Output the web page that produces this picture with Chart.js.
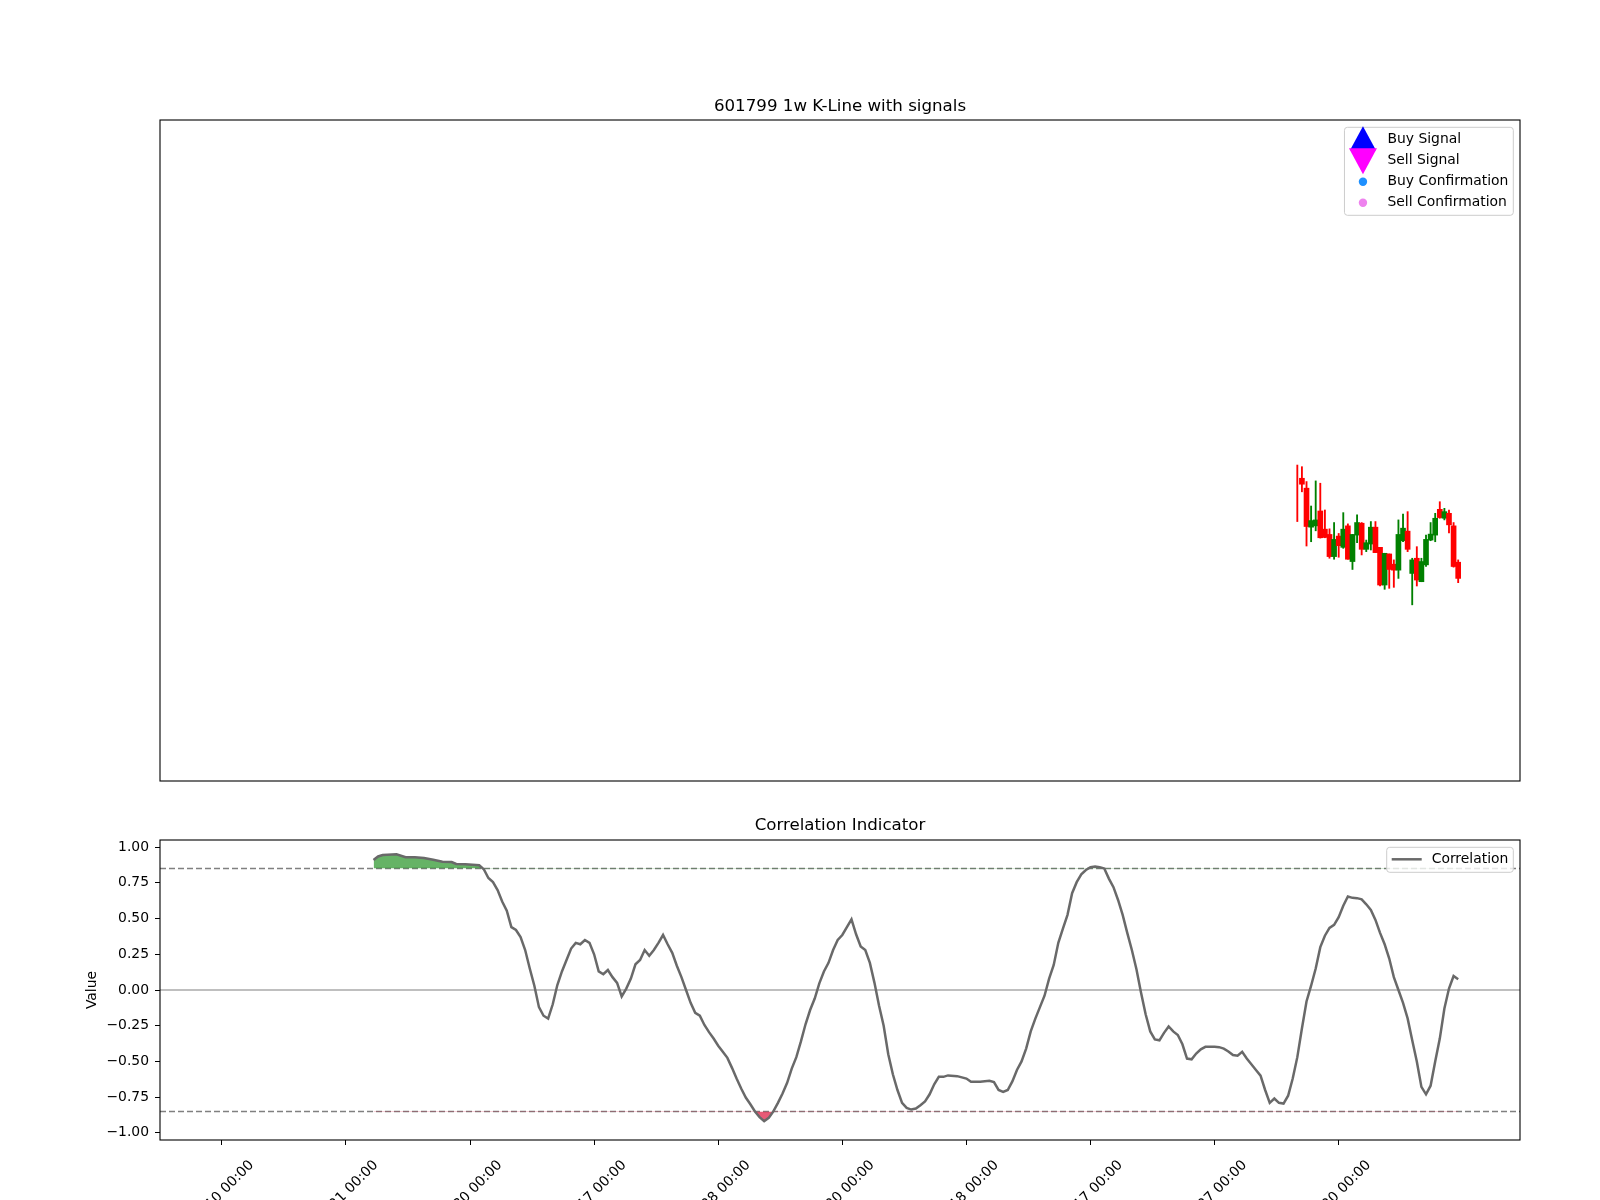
<!DOCTYPE html>
<html>
<head>
<meta charset="utf-8">
<script src="https://cdn.jsdelivr.net/npm/chart.js@4.4.1/dist/chart.umd.min.js"></script>
<style>
  body { margin: 0; background: #fff; }
  #wrap { position: relative; width: 1600px; height: 1200px; overflow: hidden; }
  canvas { position: absolute; left: 0; }
  #kline { top: 0; }
  #corr { top: 790px; }
</style>
</head>
<body>
<div id="wrap">
  <canvas id="kline" width="1600" height="790"></canvas>
  <canvas id="corr" width="1600" height="410"></canvas>
</div>
<script>
// week index of each weekly candle (only the last 36 weeks are drawn)
const candleWeeks = [234, 235, 236, 237, 238, 239, 240, 241, 242, 243, 244, 245,
  246, 247, 248, 249, 250, 251, 252, 253, 254, 255, 256, 257,
  258, 259, 260, 261, 262, 263, 264, 265, 266, 267, 268, 269];
const opens  = [147.0, 151.6, 148.6, 136.8, 137.2, 141.7, 136.2, 134.6, 127.9, 134.1, 130.7, 137.2,
  126.4, 134.4, 138.0, 130.1, 131.7, 136.8, 130.7, 119.3, 128.7, 125.6, 123.8, 132.7,
  135.6, 122.8, 127.4, 120.3, 125.4, 132.9, 134.4, 142.2, 139.5, 141.0, 137.2, 126.2];
const highs  = [155.6, 155.1, 150.6, 143.2, 150.8, 150.1, 142.0, 136.3, 138.2, 134.9, 141.2, 137.8,
  134.6, 140.5, 138.2, 132.9, 138.5, 138.5, 130.7, 128.9, 128.7, 126.9, 139.0, 140.8,
  141.5, 127.4, 130.9, 127.4, 134.4, 138.2, 141.0, 144.5, 142.5, 142.0, 138.2, 126.9];
const lows   = [138.5, 147.5, 131.1, 132.4, 135.7, 133.5, 133.6, 127.4, 127.1, 127.7, 130.4, 127.1,
  124.0, 132.1, 128.4, 129.4, 129.9, 129.1, 119.0, 118.0, 118.3, 118.6, 121.3, 132.4,
  129.4, 113.3, 119.0, 120.3, 124.9, 132.7, 132.4, 139.5, 139.0, 135.1, 124.7, 120.0];
const closes = [147.0, 149.8, 137.0, 138.8, 139.0, 133.6, 133.7, 127.9, 133.1, 131.2, 136.2, 127.1,
  134.6, 138.2, 130.1, 132.1, 136.8, 129.1, 119.3, 128.9, 124.0, 123.8, 134.6, 136.5,
  130.1, 126.9, 120.8, 126.4, 133.1, 134.7, 139.5, 139.7, 141.5, 137.5, 124.9, 121.3];

// correlation indicator (week index -> value)
const corrWeeks = [33, 34, 35, 36, 38, 40, 42, 44, 46, 48, 50, 51, 53, 56, 57, 58, 59, 60,
  61, 62, 63, 64, 65, 66, 67, 68, 69, 70, 71, 72, 73, 74, 75, 76, 77, 78, 79, 80,
  81, 82, 83, 84, 85, 86, 87, 88, 89, 90, 91, 92, 93, 94, 95, 96, 97, 98, 99, 100,
  101, 102, 103, 104, 105, 106, 107, 108, 109, 110, 111, 112, 113, 114, 115, 116, 117, 118, 119, 120,
  121, 122, 123, 124, 125, 126, 127, 128, 129, 130, 131, 132, 133, 134, 135, 136, 137, 138, 139, 140,
  141, 142, 143, 144, 145, 146, 147, 148, 149, 150, 151, 152, 153, 154, 155, 156, 157, 158, 160,
  162, 163, 165, 167, 168, 169, 170, 171, 172, 173, 174, 175, 176, 177, 178, 179, 180,
  181, 182, 183, 184, 185, 186, 187, 188, 189, 190, 191, 192, 193, 194, 195, 196, 197, 198, 199, 200,
  201, 202, 203, 204, 205, 206, 207, 208, 209, 210, 211, 212, 213, 214, 216, 217, 218, 219, 220,
  221, 222, 223, 224, 225, 226, 227, 228, 229, 230, 231, 232, 233, 234, 235, 236, 237, 238, 239, 240,
  241, 242, 243, 244, 245, 246, 247, 248, 249, 250, 251, 252, 253, 254, 255, 256, 257, 258, 259, 260,
  261, 262, 263, 264, 265, 266, 267, 268, 269];
const corrValues = [0.91, 0.935, 0.945, 0.947, 0.95, 0.93, 0.929, 0.924, 0.912, 0.898, 0.896, 0.882, 0.88, 0.873, 0.845, 0.784, 0.755, 0.70,
  0.62, 0.555, 0.44, 0.42, 0.37, 0.28, 0.15, 0.03, -0.12, -0.18, -0.20, -0.10, 0.035, 0.13, 0.21, 0.29, 0.33, 0.32, 0.35, 0.33,
  0.25, 0.13, 0.11, 0.14, 0.09, 0.05, -0.045, 0.01, 0.08, 0.18, 0.21, 0.28, 0.24, 0.28, 0.33, 0.385, 0.32, 0.26, 0.17, 0.09,
  0.00, -0.09, -0.16, -0.18, -0.245, -0.295, -0.34, -0.39, -0.433, -0.475, -0.545, -0.62, -0.69, -0.753, -0.80, -0.85, -0.89, -0.918, -0.895, -0.85,
  -0.79, -0.725, -0.65, -0.55, -0.47, -0.36, -0.24, -0.14, -0.06, 0.047, 0.13, 0.19, 0.28, 0.35, 0.385, 0.44, 0.495, 0.39, 0.305, 0.28,
  0.19, 0.05, -0.11, -0.25, -0.45, -0.59, -0.70, -0.79, -0.825, -0.837, -0.83, -0.807, -0.78, -0.73, -0.66, -0.608, -0.608, -0.598, -0.603,
  -0.62, -0.643, -0.643, -0.636, -0.645, -0.70, -0.713, -0.70, -0.64, -0.56, -0.50, -0.41, -0.29, -0.20, -0.12, -0.04, 0.08,
  0.175, 0.33, 0.43, 0.526, 0.678, 0.755, 0.81, 0.84, 0.86, 0.865, 0.86, 0.85, 0.78, 0.72, 0.63, 0.526, 0.40, 0.28, 0.145, -0.02,
  -0.17, -0.29, -0.346, -0.352, -0.30, -0.255, -0.29, -0.315, -0.38, -0.48, -0.485, -0.445, -0.415, -0.398, -0.398, -0.40, -0.41, -0.43, -0.455,
  -0.46, -0.433, -0.48, -0.52, -0.56, -0.60, -0.70, -0.79, -0.76, -0.79, -0.795, -0.74, -0.62, -0.47, -0.27, -0.08, 0.03, 0.15, 0.30, 0.38,
  0.435, 0.456, 0.51, 0.59, 0.655, 0.645, 0.643, 0.635, 0.60, 0.561, 0.491, 0.40, 0.32, 0.22, 0.09, 0.0, -0.09, -0.199, -0.351, -0.50,
  -0.678, -0.73, -0.67, -0.50, -0.34, -0.13, 0.01, 0.098, 0.075];

const tickWeeks = [0, 27, 54, 81, 108, 135, 162, 189, 216, 243];
const tickLabels = ['2018-09-10 00:00', '2019-03-21 00:00', '2019-09-30 00:00', '2020-04-17 00:00', '2020-10-28 00:00',
  '2021-05-20 00:00', '2021-11-18 00:00', '2022-06-17 00:00', '2022-12-27 00:00', '2023-07-20 00:00'];
const yTicks = [-1, -0.75, -0.5, -0.25, 0, 0.25, 0.5, 0.75, 1];
const upperBand = 0.85;
const lowerBand = -0.85;

// x range: weeks 0..269 plus 5% margin on each side
const xMin = -13.45;
const xMax = 282.45;

Chart.defaults.font.family = "'DejaVu Sans', sans-serif";
Chart.defaults.font.size = 13.9;
Chart.defaults.color = '#000';

const frame = {
  id: 'frame',
  afterDatasetsDraw(chart) {
    const { ctx, chartArea: a } = chart;
    ctx.save();
    ctx.strokeStyle = '#000';
    ctx.lineWidth = 1.1;
    ctx.strokeRect(a.left, a.top, a.right - a.left, a.bottom - a.top);
    ctx.restore();
  }
};

const bandLines = {
  id: 'bandLines',
  beforeDatasetsDraw(chart) {
    const { ctx, chartArea: a, scales: { y } } = chart;
    const hline = (v, color, dash) => {
      const py = y.getPixelForValue(v);
      ctx.save();
      ctx.beginPath();
      ctx.setLineDash(dash);
      ctx.strokeStyle = color;
      ctx.lineWidth = 1.5;
      ctx.moveTo(a.left, py);
      ctx.lineTo(a.right, py);
      ctx.stroke();
      ctx.restore();
    };
    hline(0, '#aaaaaa', []);
    hline(upperBand, '#808080', [6, 3]);
    hline(lowerBand, '#808080', [6, 3]);
  }
};

function drawMarker(ctx, it, cx, cy) {
  ctx.fillStyle = it.color;
  ctx.strokeStyle = it.color;
  ctx.beginPath();
  if (it.marker === 'triUp') {
    ctx.moveTo(cx, cy - 12);
    ctx.lineTo(cx - 13, cy + 12);
    ctx.lineTo(cx + 13, cy + 12);
    ctx.closePath();
    ctx.fill();
  } else if (it.marker === 'triDown') {
    ctx.moveTo(cx - 14, cy - 11);
    ctx.lineTo(cx + 14, cy - 11);
    ctx.lineTo(cx, cy + 15);
    ctx.closePath();
    ctx.fill();
  } else if (it.marker === 'circle') {
    ctx.arc(cx, cy + 1.5, 4.2, 0, Math.PI * 2);
    ctx.fill();
  } else {
    ctx.lineWidth = 2.5;
    ctx.moveTo(cx - 15, cy + 1);
    ctx.lineTo(cx + 15, cy + 1);
    ctx.stroke();
  }
}

const boxLegend = {
  id: 'boxLegend',
  afterDraw(chart, args, opts) {
    const items = opts.items || [];
    if (!items.length) return;
    const { ctx, chartArea: a } = chart;
    ctx.save();
    ctx.font = "13.9px 'DejaVu Sans'";
    const textW = Math.max(...items.map(it => ctx.measureText(it.label).width));
    const w = opts.textX + textW + 5;
    const h = 16 + 21 * (items.length - 1) + 9;
    const x0 = a.right - 6.7 - w;
    const y0 = a.top + 7.3;
    ctx.fillStyle = 'rgba(255,255,255,0.8)';
    ctx.strokeStyle = '#cccccc';
    ctx.lineWidth = 1;
    ctx.beginPath();
    ctx.roundRect(x0, y0, w, h, 3);
    ctx.fill();
    ctx.stroke();
    items.forEach((it, k) => {
      const base = y0 + 16 + 21 * k;
      drawMarker(ctx, it, x0 + opts.markerX, base - 5);
      ctx.fillStyle = '#000';
      ctx.textAlign = 'left';
      ctx.textBaseline = 'alphabetic';
      ctx.fillText(it.label, x0 + opts.textX, base);
    });
    ctx.restore();
  }
};

const candleColors = candleWeeks.map((w, k) => closes[k] > opens[k] ? '#008000' : '#ff0000');

new Chart(document.getElementById('kline'), {
  type: 'bar',
  data: {
    datasets: [
      {
        label: 'Wick',
        data: candleWeeks.map((w, k) => ({ x: w, y: [lows[k], highs[k]] })),
        backgroundColor: candleColors,
        barThickness: 1.2,
        grouped: false,
        order: 1
      },
      {
        label: 'Body',
        // a doji (open == close) has no visible body
        data: candleWeeks.map((w, k) => ({ x: w, y: opens[k] === closes[k] ? null : [opens[k], closes[k]] })),
        backgroundColor: candleColors,
        barThickness: 5,
        grouped: false,
        order: 0
      }
    ]
  },
  options: {
    responsive: false,
    animation: false,
    devicePixelRatio: 1,
    layout: { padding: { top: 96.4, left: 160, right: 80, bottom: 9 } },
    scales: {
      x: { type: 'linear', display: false, min: xMin, max: xMax, offset: false },
      y: { display: false, min: 60, max: 260 }
    },
    plugins: {
      legend: { display: false },
      tooltip: { enabled: false },
      title: {
        display: true,
        text: '601799 1w K-Line with signals',
        font: { size: 16.67, weight: 'normal' },
        color: '#000',
        padding: { top: 0, bottom: 3.6 }
      },
      boxLegend: {
        textX: 43,
        markerX: 18.5,
        items: [
          { label: 'Buy Signal', marker: 'triUp', color: '#0000ff' },
          { label: 'Sell Signal', marker: 'triDown', color: '#ff00ff' },
          { label: 'Buy Confirmation', marker: 'circle', color: '#1e90ff' },
          { label: 'Sell Confirmation', marker: 'circle', color: '#ee82ee' }
        ]
      }
    }
  },
  plugins: [frame, boxLegend]
});

const corrPoints = corrWeeks.map((w, k) => ({ x: w, y: corrValues[k] }));

new Chart(document.getElementById('corr'), {
  type: 'line',
  data: {
    datasets: [
      {
        label: 'Correlation',
        data: corrPoints,
        borderColor: '#696969',
        borderWidth: 2.5,
        pointRadius: 0,
        tension: 0,
        fill: false,
        order: 0
      },
      {
        label: 'High correlation',
        data: corrPoints,
        borderColor: 'rgba(0,0,0,0)',
        borderWidth: 0,
        pointRadius: 0,
        fill: { target: { value: upperBand }, above: 'rgba(0,128,0,0.6)', below: 'rgba(0,0,0,0)' },
        order: 1
      },
      {
        label: 'Low correlation',
        data: corrPoints,
        borderColor: 'rgba(0,0,0,0)',
        borderWidth: 0,
        pointRadius: 0,
        fill: { target: { value: lowerBand }, above: 'rgba(0,0,0,0)', below: 'rgba(220,20,60,0.7)' },
        order: 2
      }
    ]
  },
  options: {
    responsive: false,
    animation: false,
    devicePixelRatio: 1,
    layout: { padding: { top: 25.5, left: 0, right: 80, bottom: 0 } },
    scales: {
      x: {
        type: 'linear',
        min: xMin,
        max: xMax,
        afterBuildTicks: s => { s.ticks = tickWeeks.map(v => ({ value: v })); },
        afterFit: s => { s.height = 60; },
        ticks: {
          autoSkip: false,
          minRotation: 45,
          maxRotation: 45,
          labelOffset: 30,
          padding: 12,
          color: '#000',
          callback: (v, i) => tickLabels[i]
        },
        grid: { drawOnChartArea: false, tickLength: 5, color: '#000' },
        border: { display: false }
      },
      y: {
        min: -1.05,
        max: 1.05,
        afterBuildTicks: s => { s.ticks = yTicks.map(v => ({ value: v })); },
        afterFit: s => { s.width = 160; },
        ticks: {
          padding: 6,
          color: '#000',
          callback: v => v.toFixed(2).replace('-', '\u2212')
        },
        grid: { drawOnChartArea: false, tickLength: 5, color: '#000' },
        border: { display: false },
        title: { display: true, text: 'Value', color: '#000', padding: { top: 84, bottom: 0 } }
      }
    },
    plugins: {
      legend: { display: false },
      tooltip: { enabled: false },
      title: {
        display: true,
        fullSize: false,
        text: 'Correlation Indicator',
        font: { size: 16.67, weight: 'normal' },
        color: '#000',
        padding: { top: 0, bottom: 4.5 }
      },
      boxLegend: {
        textX: 45,
        markerX: 20,
        items: [{ label: 'Correlation', marker: 'line', color: '#696969' }]
      }
    }
  },
  plugins: [bandLines, frame, boxLegend]
});
</script>
</body>
</html>
